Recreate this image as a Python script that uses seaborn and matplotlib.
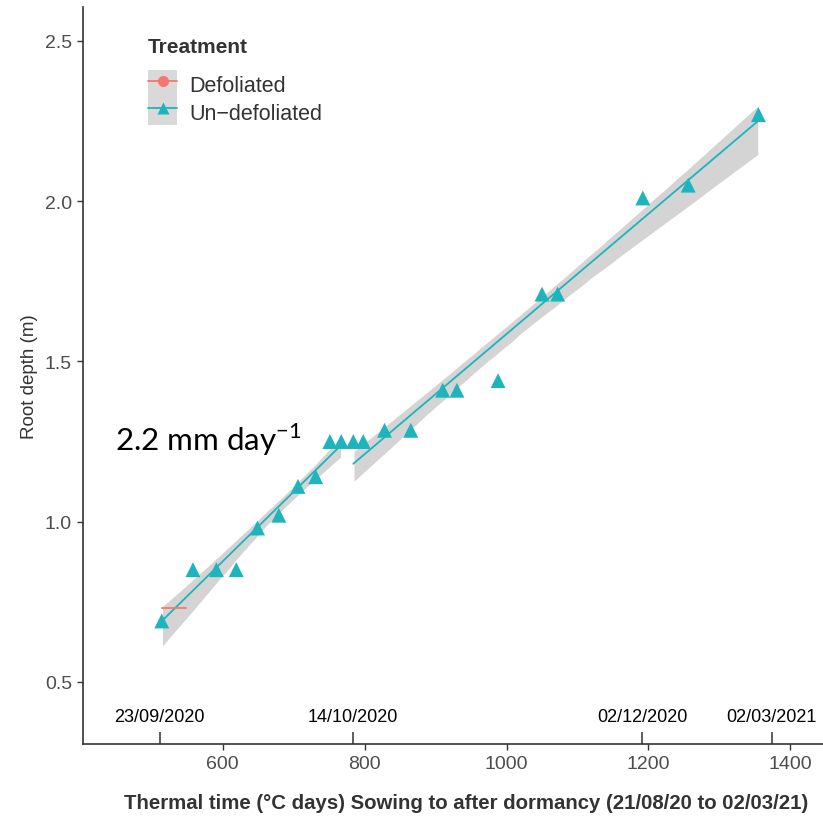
import numpy as np
import pandas as pd
import matplotlib
matplotlib.use("Agg")
import matplotlib.pyplot as plt
import seaborn as sns
from matplotlib.patches import Patch
from matplotlib.lines import Line2D
from matplotlib.legend_handler import HandlerTuple
from matplotlib.collections import PolyCollection

sns.set_style("ticks")
plt.rcParams['font.family'] = ['Liberation Sans', 'DejaVu Sans']

# ---- data ----
tt_undef = [514, 558, 591, 619, 649, 679, 706, 731, 751, 767,
            784, 798, 828, 865, 910, 930, 988, 1050, 1072, 1192, 1256, 1355]
depth_undef = [0.69, 0.85, 0.85, 0.85, 0.98, 1.02, 1.11, 1.14, 1.25, 1.25,
               1.25, 1.25, 1.285, 1.285, 1.41, 1.41, 1.44, 1.71, 1.71, 2.01, 2.05, 2.27]
tt_def = [514, 548]
depth_def = [0.73, 0.73]
treatments = ["Defoliated", "Un\u2212defoliated"]
date_labels = ["23/09/2020", "14/10/2020", "02/12/2020", "02/03/2021"]
date_tt = [511, 783, 1191, 1374]
x_ticks = [600, 800, 1000, 1200, 1400]
y_ticks = [0.5, 1.0, 1.5, 2.0, 2.5]

RED = "#F8766D"
TEAL = "#1DB4BC"
BAND = "#D4D4D4"

df = pd.DataFrame({"tt": tt_undef, "depth": depth_undef})
df["phase"] = np.where(df["tt"] < date_tt[1], 1, 2)
dfd = pd.DataFrame({"tt": tt_def, "depth": depth_def})

fig = plt.figure(figsize=(8.23, 8.20), dpi=100)
ax = fig.add_axes([83/823, 75/820, 740/823, 737/820])

for ph, sub in df.groupby("phase"):
    n_before = len(ax.collections)
    sns.regplot(data=sub, x="tt", y="depth", scatter=False, ci=95, n_boot=1000,
                seed=1, color=TEAL, line_kws=dict(lw=1.3, zorder=2), ax=ax)
    for c in ax.collections[n_before:]:
        if isinstance(c, PolyCollection):
            c.set_facecolor(BAND)
            c.set_alpha(1)
            c.set_zorder(1)

sns.regplot(data=dfd, x="tt", y="depth", scatter=False, ci=None, color=RED,
            line_kws=dict(lw=1.3, zorder=2), ax=ax)

sns.scatterplot(data=df, x="tt", y="depth", marker="^", s=115, color=TEAL,
                edgecolor="none", zorder=3, ax=ax, legend=False)

ax.set_xlim(403, 1446)
ax.set_ylim(0.306, 2.606)
ax.set_xticks(x_ticks)
ax.set_yticks(y_ticks)
ax.set_yticklabels([f"{v:.1f}" for v in y_ticks])
ax.tick_params(axis="both", direction="out", length=4, width=1, color="#333333",
               labelsize=14, labelcolor="#4D4D4D", pad=4)
for s in ["top", "right"]:
    ax.spines[s].set_visible(False)
for s in ["left", "bottom"]:
    ax.spines[s].set_color("#333333")
    ax.spines[s].set_linewidth(1.2)

# date markers
xt = ax.get_xaxis_transform()
ax.vlines(date_tt, 0, 12/737, transform=xt, color="#333333", lw=1.1)
for d, lab in zip(date_tt, date_labels):
    ax.text(d, 27/737, lab, transform=xt, ha="center", va="center",
            fontsize=13, color="black")

ax.set_xlabel("Thermal time (\u00b0C days) Sowing to after dormancy (21/08/20 to 02/03/21)",
              fontsize=14.7, fontweight="bold", color="#333333")
ax.xaxis.set_label_coords(0.5176, -0.0665)
ax.set_ylabel("Root depth (m)", fontsize=13.5, color="#333333", labelpad=5)

ax.text(448, 1.225, "2.2 mm day$^{\\mathregular{-1}}$", fontsize=22.5,
        family=["Lato", "DejaVu Sans"], color="black", ha="left", va="baseline")

handles = [
    (Patch(facecolor="#D9D9D9", edgecolor="none"),
     Line2D([], [], color=RED, marker="o", ms=8, lw=1.3, markeredgecolor="none")),
    (Patch(facecolor="#D9D9D9", edgecolor="none"),
     Line2D([], [], color=TEAL, marker="^", ms=9, lw=1.3, markeredgecolor="none")),
]
leg = ax.legend(handles, treatments, title="Treatment", loc="upper left",
                bbox_to_anchor=(131/823, 1 - 21/820), bbox_transform=fig.transFigure,
                frameon=False, handlelength=1.35, handleheight=1.6, labelspacing=0,
                handletextpad=0.55, borderpad=0.8, borderaxespad=0, fontsize=15.5,
                title_fontproperties={"weight": "bold", "size": 15},
                alignment="left", handler_map={tuple: HandlerTuple(ndivide=1)})
leg._legend_box.sep = 10
for t in leg.get_texts():
    t.set_color("#333333")
leg.get_title().set_color("#333333")

fig.savefig("out.png", dpi=100)
